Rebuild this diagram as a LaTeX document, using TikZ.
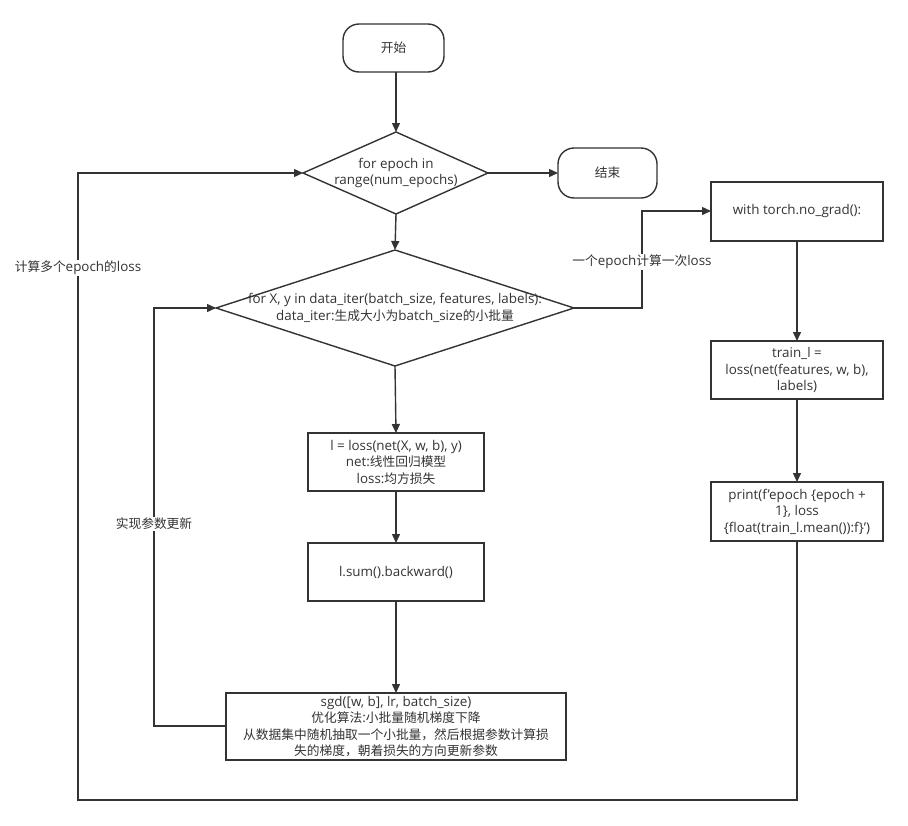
\documentclass[tikz,border=0pt]{standalone}
\usepackage{fontspec}
\setmainfont{Open Sans}
\newfontfamily\cjkfont[Scale=0.95]{Noto Sans CJK SC}
\newcommand{\zh}[1]{{\cjkfont #1}}
\usetikzlibrary{shapes.geometric,arrows.meta}
\begin{document}
\begin{tikzpicture}[x=1pt,y=-1pt,
  every node/.style={font=\fontsize{13.4}{16.5}\selectfont, text=black!80, align=center, inner sep=0pt},
  ln/.style={draw=black!80, line width=1.4pt},
  arr/.style={ln, -{Triangle[length=9pt,width=8pt]}},
  term/.style={ln, rounded corners=16pt},
  box/.style={ln},
  lab/.style={fill=white, inner sep=1pt}]
\path[use as bounding box] (0,0) rectangle (908,825);
% terminals
\draw[term] (343,24) rectangle (444,72); \node (start) at (393.5,48) {\zh{开始}};
\coordinate (startS) at (396,72);
\draw[term] (558,148) rectangle (657,198); \node (endn) at (607.5,173) {\zh{结束}};
\coordinate (endW) at (558,173);
% diamond 1
\coordinate (d1N) at (396,132); \coordinate (d1S) at (396,214);
\coordinate (d1W) at (303,173); \coordinate (d1E) at (488,173);
\draw[ln] (d1N) -- (d1E) -- (d1S) -- (d1W) -- cycle;
\node (d1) at (396,173) {for epoch in\\range(num\_epochs)};
% diamond 2
\coordinate (d2N) at (395,250); \coordinate (d2S) at (395,366);
\coordinate (d2W) at (216,308); \coordinate (d2E) at (574,308);
\draw[ln] (d2N) -- (d2E) -- (d2S) -- (d2W) -- cycle;
\node (d2) at (395,308) {for X, y in data\_iter(batch\_size, features, labels):\\data\_iter:\zh{生成大小为}batch\_size\zh{的小批量}};
% boxes
\draw[box] (308,433) rectangle (484,491);
\node (b1) at (396,462) {l = loss(net(X, w, b), y)\\net:\zh{线性回归模型}\\loss:\zh{均方损失}};
\draw[box] (308,543) rectangle (484,601);
\node (b2) at (396,572) {l.sum().backward()};
\draw[box] (226,693) rectangle (566,760);
\node (b3) at (396,726.5) {sgd([w, b], lr, batch\_size)\\\zh{优化算法}:\zh{小批量随机梯度下降}\\\zh{从数据集中随机抽取一个小批量，然后根据参数计算损}\\\zh{失的梯度，朝着损失的方向更新参数}};
\draw[box] (711,182) rectangle (883,241);
\node (r1) at (797,211.5) {with torch.no\_grad():};
\draw[box] (711,341) rectangle (883,399);
\node (r2) at (797,370) {train\_l =\\loss(net(features, w, b),\\labels)};
\draw[box] (711,482) rectangle (883,541);
\node (r3) at (797,511.5) {print(f\symbol{39}epoch \{epoch +\\1\}, loss\\\{float(train\_l.mean()):f\}\symbol{39})};
% connectors
\draw[arr] (startS) -- (d1N);
\draw[arr] (d1E) -- (endW);
\draw[arr] (d1S) -- (d2N);
\draw[arr] (d2S) -- (396,433);
\draw[arr] (396,491) -- (396,543);
\draw[arr] (396,601) -- (396,693);
\draw[arr] (d2E) -- (642,308) -- (642,211) -- (711,211);
\node[lab] (l1) at (642,262) {\zh{一个}epoch\zh{计算一次}loss};
\draw[arr] (797,241) -- (797,341);
\draw[arr] (797,399) -- (797,482);
\draw[arr] (797,541) -- (797,800) -- (78,800) -- (78,173) -- (d1W);
\node[lab] (l2) at (78,268) {\zh{计算多个}epoch\zh{的}loss};
\draw[arr] (226,726) -- (154,726) -- (154,308) -- (d2W);
\node[lab] (l3) at (154,524) {\zh{实现参数更新}};
\end{tikzpicture}
\end{document}
